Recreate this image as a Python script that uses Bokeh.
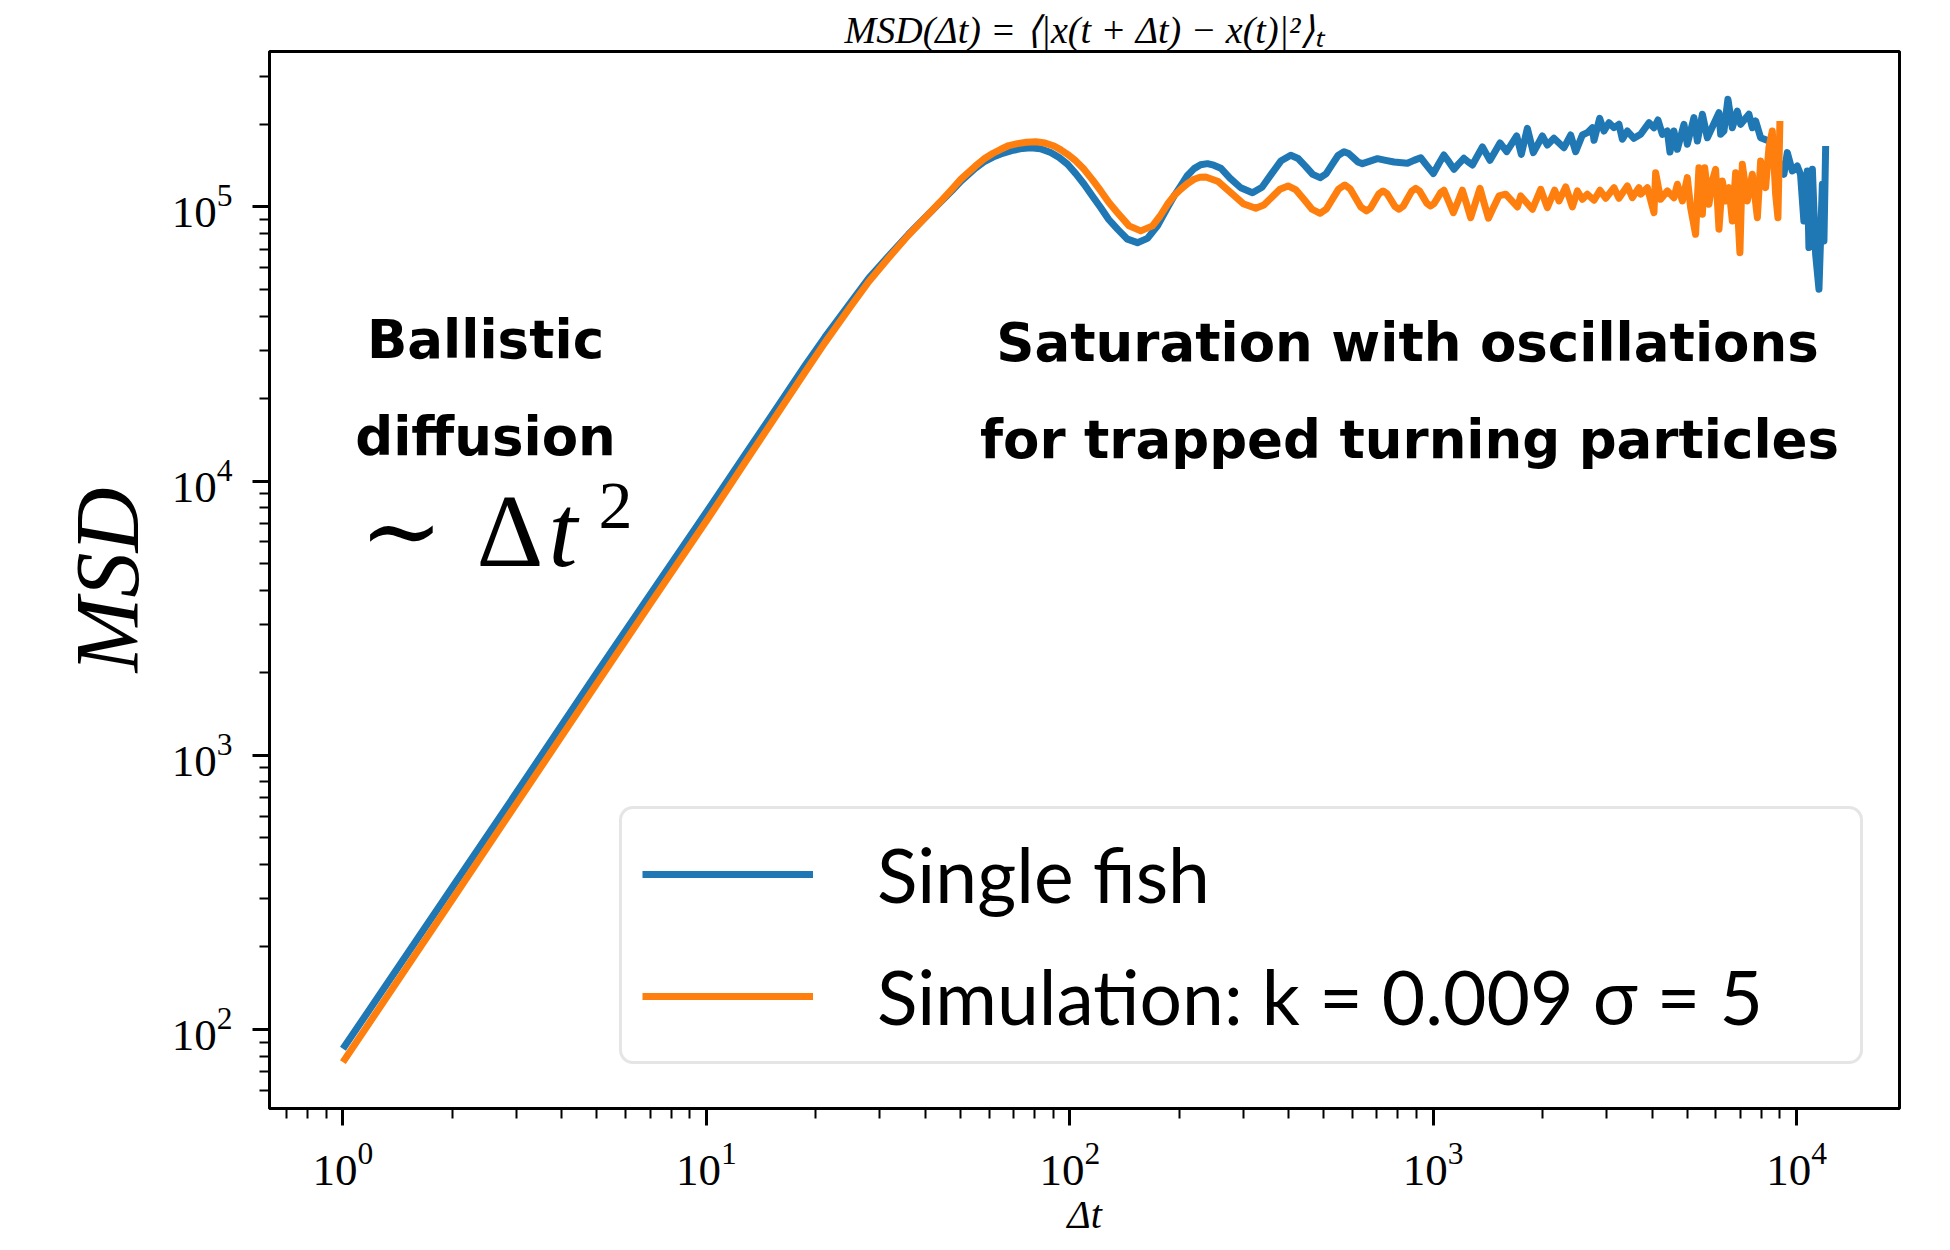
from bokeh.plotting import figure
from bokeh.models import Range1d, Label, LogTicker
from bokeh.embed import file_html
from bokeh.resources import INLINE

# ---------------- data ----------------
dt_fish = [1, 2, 3, 5, 7, 10, 13, 16, 18.7, 21.2,
           25, 28, 31.5, 36, 40, 43.9, 47.5, 50.1, 55, 58,
           61.5, 64.6, 69.2, 74.1, 78.1, 83, 88.6, 93.5, 98.6, 104,
           109.5, 115.5, 121.7, 128, 135.3, 144.1, 153.5, 163.6, 174.3, 185.7,
           193.5, 202, 210.5, 219.8, 229, 239.2, 249, 260.3, 275.9, 295.4,
           318.2, 338, 359, 381.6, 405.5, 424.9, 444.8, 466.1, 488.3, 507.2,
           526.8, 547.2, 568.4, 585.3, 602.5, 620.4, 638.7, 670, 702.5, 740,
           780.2, 849, 885, 924, 962, 1001, 1035, 1070, 1105, 1141,
           1177, 1215, 1248, 1282, 1323, 1366, 1399, 1433, 1479, 1527,
           1593, 1697, 1748, 1816, 1886, 1997, 2061, 2149, 2290, 2389,
           2466, 2573, 2656, 2742, 2770, 2871, 2951, 3045, 3144, 3244,
           3315, 3421, 3567, 3723, 3924, 4050, 4154, 4271, 4409, 4482,
           4597, 4697, 4898, 5003, 5218, 5332, 5504, 5680, 6114, 6179,
           6310, 6471, 6653, 6867, 7014, 7393, 7553, 7714, 7962, 8390,
           8849, 9227, 9427, 9730, 10040, 10250, 10470, 10700, 10810, 11050,
           11280, 11520, 11770, 11890, 12020]
msd_fish = [85, 330, 730, 2000, 3850, 7700, 12900, 19400, 26400, 33500,
            45000, 55000, 65500, 79500, 91500, 103500, 115000, 124000, 138500, 146000,
            152000, 156000, 160500, 163500, 164500, 163000, 158000, 151500, 143100, 132000,
            121000, 109500, 99400, 90000, 83000, 76300, 74100, 76800, 85300, 99400,
            109500, 119300, 130000, 138000, 142500, 143900, 142000, 138500, 127400, 117500,
            112700, 118000, 132000, 147500, 154300, 150200, 141000, 131500, 127900, 132000,
            142700, 154100, 159100, 156700, 151300, 146000, 143900, 146900, 150000, 147900,
            145900, 144300, 147900, 151200, 141300, 132300, 143500, 154700, 146000, 137200,
            144000, 150500, 146000, 142300, 153500, 165500, 156500, 148000, 159000, 171200,
            159100, 181500, 155600, 193600, 157800, 181500, 168300, 178000, 164500, 183000,
            159100, 183000, 186600, 194500, 175100, 210600, 189200, 202900, 194500, 200200,
            176600, 189200, 178000, 184100, 202900, 194500, 207600, 184100, 189200, 158700,
            189200, 162300, 200200, 169300, 211700, 174000, 217800, 178900, 220700, 184100,
            189200, 247000, 194500, 223900, 200200, 217800, 194500, 205800, 178900, 174000,
            151200, 131600, 157800, 135300, 141100, 131600, 88900, 135300, 71100, 137200,
            67200, 50100, 121000, 75200, 166900]

dt_sim = [1, 2, 3, 5, 7, 10, 13, 16, 18.7, 21.2,
          25, 28, 31.5, 36, 40, 43.9, 47.5, 50.1, 55, 58,
          61.5, 64.6, 68, 71.8, 76, 80.6, 85.5, 90.5, 94.5, 98.6,
          104, 109.5, 115.5, 121.7, 128, 135.3, 145.6, 156.8, 168.9, 177,
          185.7, 193.5, 202, 210.5, 219.8, 228, 236.6, 256.2, 277.3, 300.1,
          324.9, 342, 359.8, 378.7, 398.6, 419.3, 441.2, 464.1, 488.3, 507.8,
          528, 549, 570.9, 590.8, 611.5, 632.9, 655.1, 672.5, 690.2, 708.8,
          727.7, 746.4, 765.6, 785.2, 805.4, 826.9, 849.1, 871.9, 895.2, 916.6,
          938.6, 961.1, 984.2, 1005, 1027, 1048.6, 1070, 1103, 1136, 1170,
          1203, 1235.6, 1268, 1306, 1345, 1381, 1419, 1467, 1517, 1583,
          1705, 1741, 1875, 1976, 2061, 2159, 2219, 2315, 2415, 2493,
          2573, 2656, 2770, 2877, 2983, 3144, 3244, 3421, 3532, 3682,
          3723, 3884, 4050, 4093, 4225, 4409, 4597, 4697, 4849, 5003,
          5109, 5272, 5385, 5504, 5585, 5738, 5861, 5985, 6114, 6246,
          6378, 6513, 6653, 6795, 6982, 7089, 7316, 7553, 7798, 7962,
          8216, 8390, 8572, 8754, 8884, 8995]
msd_sim = [76, 298, 665, 1830, 3560, 7150, 12100, 18300, 25000, 32000,
           43500, 53500, 64500, 79000, 91500, 104000, 116500, 126000, 141000, 149500,
           157000, 162300, 167500, 170200, 172300, 173000, 171000, 166900, 161500, 155600,
           147000, 137200, 125500, 114400, 104000, 95300, 85300, 81800, 85300, 92500,
           102300, 109800, 116000, 121500, 126200, 128300, 128700, 123800, 112800, 102800,
           98900, 101700, 108600, 116100, 119300, 115400, 106400, 98100, 94800, 98200,
           106800, 116200, 120300, 116500, 107800, 99800, 96700, 99100, 105200, 111600,
           114400, 111900, 105900, 100300, 98100, 100600, 107100, 114000, 117000, 114500,
           108600, 103000, 100800, 102800, 107700, 112800, 115100, 104700, 95300, 104700,
           115100, 102600, 91400, 103400, 117000, 103200, 91000, 100000, 109700, 111300,
           100000, 109700, 98100, 116000, 99400, 115100, 105200, 118300, 100000, 114400,
           106700, 111300, 105800, 115100, 107600, 117600, 107600, 119300, 108100, 117600,
           111300, 117600, 95300, 133400, 106700, 114400, 108100, 121000, 105200, 127900,
           99400, 79500, 139100, 94100, 139100, 102300, 124400, 137200, 83000, 124400,
           105200, 117600, 88900, 133400, 68100, 143100, 105200, 131600, 91400, 147200,
           117600, 164500, 189200, 111300, 91400, 205800]

series_labels = ["Single fish", "Simulation: k = 0.009 σ = 5"]
series_colors = ["#1f77b4", "#ff7f0e"]
title_text = "MSD(Δt) = ⟨|x(t + Δt) − x(t)|²⟩ₜ"

# ---------------- figure ----------------
W, H = 1950, 1250
FL, FR, FT, FB = 269, 1899, 51, 1108   # frame edges on the canvas

p = figure(width=W, height=H, x_axis_type="log", y_axis_type="log",
           x_range=Range1d(0.628, 19190), y_range=Range1d(51.5, 3.69e5),
           output_backend="svg", toolbar_location=None,
           min_border_left=FL, min_border_right=W - FR,
           min_border_top=FT, min_border_bottom=H - FB)
p.background_fill_color = "white"
p.border_fill_color = "white"
p.grid.visible = False
p.outline_line_color = "black"
p.outline_line_width = 3
p.outline_line_alpha = 1

# title: fits in the top margin
p.title.text = title_text
p.title.align = "center"
p.title.text_font = "Liberation Serif"
p.title.text_font_style = "italic"
p.title.text_font_size = "38px"
p.title.text_color = "black"
p.title.standoff = 2

p.xaxis.ticker = LogTicker(mantissas=[1], num_minor_ticks=10, desired_num_ticks=6)
p.yaxis.ticker = LogTicker(mantissas=[1], num_minor_ticks=10, desired_num_ticks=6)

for ax in (p.xaxis[0], p.yaxis[0]):
    ax.axis_line_color = "black"
    ax.axis_line_width = 3
    ax.major_tick_line_color = "black"
    ax.minor_tick_line_color = "black"
    ax.major_tick_line_width = 3
    ax.minor_tick_line_width = 2
    ax.major_tick_out = 17
    ax.major_tick_in = 0
    ax.minor_tick_out = 10
    ax.minor_tick_in = 0
    ax.major_label_text_font = "Liberation Serif"
    ax.major_label_text_font_size = "45px"
    ax.major_label_text_color = "black"
p.xaxis.major_label_standoff = 18
p.yaxis.major_label_standoff = 20

p.yaxis.axis_label = "MSD"
p.yaxis.axis_label_text_font = "Liberation Serif"
p.yaxis.axis_label_text_font_style = "italic"
p.yaxis.axis_label_text_font_size = "90px"
p.yaxis.axis_label_text_color = "black"
p.yaxis.axis_label_standoff = 12

p.xaxis.axis_label = "Δt"
p.xaxis.axis_label_text_font = "Liberation Serif"
p.xaxis.axis_label_text_font_style = "italic"
p.xaxis.axis_label_text_font_size = "40px"
p.xaxis.axis_label_text_color = "black"
p.xaxis.axis_label_standoff = 4

p.line(dt_fish, msd_fish, line_color=series_colors[0], line_width=7,
       line_join="round", legend_label=series_labels[0])
p.line(dt_sim, msd_sim, line_color=series_colors[1], line_width=7,
       line_join="round", legend_label=series_labels[1])

leg = p.legend[0]
leg.location = (350, 44)
leg.margin = 0
leg.padding = 20
leg.spacing = 32
leg.glyph_width = 171
leg.glyph_height = 20
leg.label_standoff = 64
leg.label_width = 963
leg.label_height = 86
leg.label_text_font = "Lato"
leg.label_text_font_size = "75px"
leg.label_text_color = "black"
leg.border_line_color = "#cccccc"
leg.border_line_width = 3
leg.border_radius = 14
leg.background_fill_color = "white"
leg.background_fill_alpha = 0.8


def add_label(text, cx, cy, size, font="DejaVu Sans", style="normal", align="center"):
    # cx, cy: canvas position of the text baseline; corrected for how the
    # renderer places an alphabetic baseline (about 0.36 em lower)
    cy_adj = cy - 0.36 * size
    p.add_layout(Label(x=cx - FL, y=FB - cy_adj, x_units="screen", y_units="screen",
                       text=text, text_font=font, text_font_style=style,
                       text_font_size=f"{size}px", text_align=align,
                       text_baseline="alphabetic", text_color="black"))


# annotations
add_label("Ballistic", 485, 358, 53, style="bold")
add_label("diffusion", 485, 455, 53, style="bold")
add_label("∼", 401, 566, 100, font="DejaVu Serif")
add_label("Δ", 476, 567, 104, font="Liberation Serif", align="left")
add_label("t", 548, 567, 104, font="Liberation Serif", style="italic", align="left")
add_label("2", 598, 530, 68, font="Liberation Serif", align="left")
add_label("Saturation with oscillations", 1407, 361, 53, style="bold")
add_label("for trapped turning particles", 1409, 458, 53, style="bold")

open("out.html", "w").write(file_html(p, INLINE))
